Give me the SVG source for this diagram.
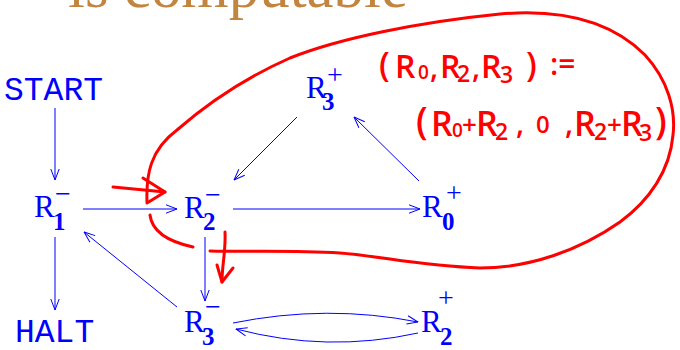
<svg xmlns="http://www.w3.org/2000/svg" width="680" height="350" viewBox="0 0 680 350">
  <style>
    .lbl { font-family: Liberation Serif, serif; fill: #0000ff; }
    .R { font-size: 31px; }
    .sub { font-size: 25px; font-weight: bold; }
    .sup { font-size: 28px; }
    .tt { font-family: Liberation Mono, monospace; font-size: 33px; fill: #0000ff; }
    .edge { stroke: #0000ff; stroke-width: 1; fill: none; marker-end: url(#ah); }
    .red { stroke: #ff0000; stroke-width: 3; fill: none; stroke-linecap: round; stroke-linejoin: round; }
    .hand { font-family: Open Sans, DejaVu Sans, sans-serif; font-weight: 600; fill: #ff0000; }
  </style>
  <defs>
    <marker id="ah" viewBox="0 0 12 10" refX="11.5" refY="5" markerWidth="12" markerHeight="10" markerUnits="userSpaceOnUse" orient="auto">
      <path d="M0.5,0.8 L11.5,5 L0.5,9.2" fill="none" stroke="#0000ff" stroke-width="1"/>
    </marker>
  </defs>

  <rect width="680" height="350" fill="#ffffff"/>

  <text x="68" y="7" font-family="Liberation Serif, serif" font-size="62" fill="#c2853f" textLength="340" lengthAdjust="spacingAndGlyphs">is computable</text>

  <g id="connectors">
    <path class="edge" d="M55 108 L55 180"/>
    <path class="edge" d="M55 237 L55 310"/>
    <path class="edge" d="M83 209 L177 209"/>
    <path class="edge" d="M233 209 L420 209"/>
    <path class="edge" d="M419 181 L354 117"/>
    <path class="edge" d="M297 117 L234 180"/>
    <path class="edge" d="M205 237 L205 301"/>
    <path class="edge" d="M177 307 L84 232"/>
    <path class="edge" d="M233 323 Q327 304 418 322"/>
    <path class="edge" d="M418 333 Q327 353 236 329"/>
  </g>

  <g id="start"><text class="tt" x="4" y="100">START</text></g>
  <g id="halt"><text class="tt" x="15" y="342">HALT</text></g>

  <g id="r1minus" class="lbl">
    <text class="R" x="34" y="217">R</text>
    <text class="sub" x="53" y="230">1</text>
    <text class="sup" x="55" y="203">−</text>
  </g>
  <g id="r2minus" class="lbl">
    <text class="R" x="184" y="218">R</text>
    <text class="sub" x="203" y="230">2</text>
    <text class="sup" x="205" y="204">−</text>
  </g>
  <g id="r0plus" class="lbl">
    <text class="R" x="422" y="217">R</text>
    <text class="sub" x="442" y="230">0</text>
    <text class="sup" x="446" y="202">+</text>
  </g>
  <g id="r3plus" class="lbl">
    <text class="R" x="306" y="98">R</text>
    <text class="sub" x="322" y="110">3</text>
    <text class="sup" x="327" y="84">+</text>
  </g>
  <g id="r3minus" class="lbl">
    <text class="R" x="184" y="332">R</text>
    <text class="sub" x="202" y="345">3</text>
    <text class="sup" x="205" y="316">−</text>
  </g>
  <g id="r2plus" class="lbl">
    <text class="R" x="421" y="332">R</text>
    <text class="sub" x="440" y="345">2</text>
    <text class="sup" x="438" y="307">+</text>
  </g>

  <g id="annotation">
    <path class="red" d="M147 202 C146 175 150 150 177 130 C200 110 240 80 290 58 C340 38 420 22 500 14 C570 8 615 25 645 55 C668 80 676 110 673 135 C670 170 650 200 620 222 C580 250 530 268 480 268 C420 266 380 256 340 253 C290 250 250 252 210 251"/>
    <path class="red" d="M150 215 C152 232 170 242 193 247"/>
    <path class="red" d="M113 187 L165 192"/>
    <path class="red" d="M143 178 L165 192 L147 203"/>
    <path class="red" d="M225 232 C226 250 222 265 222 282"/>
    <path class="red" d="M217 265 L222 282 L233 268"/>

    <text class="hand">
      <tspan x="379" y="77" font-size="34">(</tspan><tspan x="395" y="78" font-size="32">R</tspan><tspan x="418" y="79" font-size="19">0</tspan><tspan x="430" y="78" font-size="30">,</tspan><tspan x="440" y="78" font-size="32">R</tspan><tspan x="457" y="82" font-size="23">2</tspan><tspan x="472" y="78" font-size="30">,</tspan><tspan x="481" y="78" font-size="32">R</tspan><tspan x="500" y="83" font-size="23">3</tspan><tspan x="526" y="77" font-size="34">)</tspan><tspan x="550" y="75" font-size="30">:=</tspan>
    </text>
    <text class="hand">
      <tspan x="416" y="134" font-size="37">(</tspan><tspan x="431" y="136" font-size="34">R</tspan><tspan x="452" y="137" font-size="19">0</tspan><tspan x="462" y="134" font-size="26">+</tspan><tspan x="476" y="136" font-size="34">R</tspan><tspan x="495" y="140" font-size="23">2</tspan><tspan x="516" y="134" font-size="30">,</tspan><tspan x="536" y="133" font-size="24">0</tspan><tspan x="565" y="134" font-size="30">,</tspan><tspan x="574" y="136" font-size="34">R</tspan><tspan x="594" y="140" font-size="23">2</tspan><tspan x="607" y="134" font-size="26">+</tspan><tspan x="621" y="136" font-size="34">R</tspan><tspan x="639" y="141" font-size="23">3</tspan><tspan x="655" y="134" font-size="37">)</tspan>
    </text>
  </g>
</svg>
